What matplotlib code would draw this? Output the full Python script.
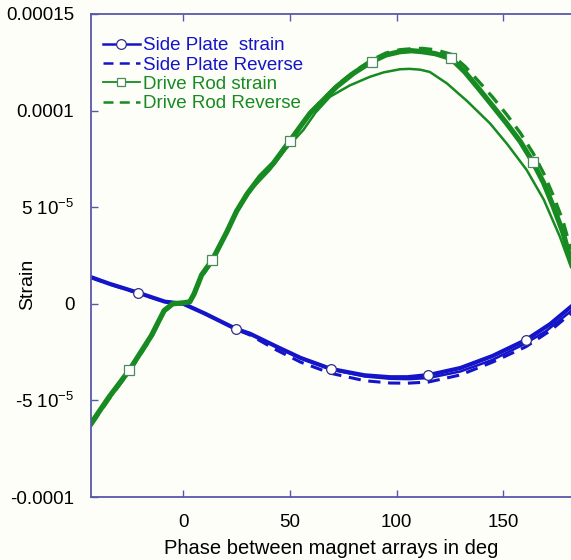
import numpy as np
import matplotlib
matplotlib.use('Agg')
import matplotlib.pyplot as plt
from matplotlib.lines import Line2D
from matplotlib.ticker import FixedLocator, FixedFormatter

plt.rcParams['font.family'] = ['Liberation Sans', 'DejaVu Sans']
plt.rcParams['mathtext.default'] = 'regular'

# phase (deg) and strain (units of 1e-5) read per curve
side_deg = [-43.3, -35, -21.1, -8.6, 0, 10, 24.7, 31.3, 43.8, 55, 69.2, 85, 97, 105, 114.9, 130, 145, 160.7, 172, 181.8]
side_strain = [1.38, 1.05, 0.57, 0.11, 0.0, -0.5, -1.30, -1.55, -2.22, -2.80, -3.37, -3.70, -3.80, -3.80, -3.69, -3.32, -2.70, -1.87, -1.05, -0.15]
side_marks = [2, 6, 10, 14, 17]
side_rev = [1.36, 1.03, 0.55, 0.10, 0.0, -0.5, -1.32, -1.62, -2.40, -3.02, -3.60, -3.98, -4.10, -4.11, -4.05, -3.68, -3.02, -2.22, -1.40, -0.50]
# second pass of the side plate gauge, only separates past ~60 deg
side_ret_deg = [55, 70, 85, 97, 106, 115, 130, 145, 160, 170, 181.8]
side_ret = [-2.82, -3.42, -3.76, -3.88, -3.90, -3.84, -3.50, -2.90, -2.08, -1.42, -0.38]

drive_deg = [-43.3, -35, -25.3, -15, -9, -5, 0, 3, 5, 8.6, 13.5, 20.3, 25, 30, 36, 42.2, 50, 59.4,
             71.9, 80, 88.3, 95, 101.6, 107, 112, 118, 125.5, 132, 139, 145, 151.6, 158, 164, 169, 173.5, 178, 181.8]
drive_strain = [-6.2, -4.85, -3.43, -1.65, -0.35, 0.0, 0.05, 0.1, 0.5, 1.5, 2.25, 3.7, 4.8, 5.7, 6.58, 7.27, 8.44, 9.86,
                11.24, 11.95, 12.53, 12.88, 13.05, 13.1, 13.05, 12.95, 12.70, 12.0, 11.07, 10.25, 9.34, 8.4, 7.32, 6.25, 5.03, 3.7, 2.2]
drive_marks = [2, 10, 16, 20, 26, 32]
drive_rev = [-6.3, -4.95, -3.5, -1.75, -0.4, -0.05, 0.05, 0.1, 0.45, 1.4, 2.2, 3.65, 4.75, 5.65, 6.55, 7.25, 8.45, 9.9,
             11.3, 12.02, 12.62, 12.98, 13.15, 13.2, 13.22, 13.15, 12.92, 12.3, 11.45, 10.7, 9.80, 8.85, 7.80, 6.75, 5.60, 4.3, 2.8]
drive_ret_deg = [30, 40.6, 48, 56.3, 62, 68.8, 78, 87.5, 94, 101.6, 106, 111, 115.6, 123.7, 133, 143.8, 152, 161, 169, 176.6, 181.8]
drive_ret = [5.7, 6.93, 8.0, 9.0, 9.9, 10.72, 11.3, 11.75, 11.98, 12.14, 12.16, 12.12, 12.0, 11.4, 10.5, 9.34, 8.25, 6.93, 5.4, 3.47, 1.9]

xticks = [0, 50, 100, 150]
yticks = [-1e-4, -5e-5, 0, 5e-5, 1e-4, 1.5e-4]
ytick_labels = ['-0.0001', '-5 10$^{-5}$', '0', '5 10$^{-5}$', '0.0001', '0.00015']

blue = '#1414c8'
green = '#178a22'
axis_col = '#5858aa'
bg = '#fefef9'

e5 = lambda v: np.array(v) * 1e-5

fig = plt.figure(figsize=(5.71, 5.60), dpi=100, facecolor=bg)
ax = fig.add_axes([91/571, 63/560, 480/571, 483/560], facecolor=bg)

ax.plot(side_ret_deg, e5(side_ret), color=blue, lw=1.8)
ax.plot(side_deg, e5(side_rev), color=blue, lw=2.2, ls=(0, (4, 2.5)))
ax.plot(side_deg, e5(side_strain), color=blue, lw=3, marker='o', markevery=side_marks,
        ms=7, mfc='white', mec='#303080', mew=0.9)

ax.plot(drive_ret_deg, e5(drive_ret), color=green, lw=1.8)
ax.plot(drive_deg, e5(drive_rev), color=green, lw=2.4, ls=(0, (4, 2.5)))
ax.plot(drive_deg, e5(drive_strain), color=green, lw=3.8, marker='s', markevery=drive_marks,
        ms=7, mfc='white', mec='#4a8a5a', mew=0.9)

ax.set_xlim(-43.3, 181.8)
ax.set_ylim(-1e-4, 1.5e-4)
ax.xaxis.set_major_locator(FixedLocator(xticks))
ax.yaxis.set_major_locator(FixedLocator(yticks))
ax.yaxis.set_major_formatter(FixedFormatter(ytick_labels))

for side in ['left', 'top', 'bottom']:
    ax.spines[side].set_color(axis_col)
    ax.spines[side].set_linewidth(1.3)
ax.spines['right'].set_visible(False)
ax.tick_params(axis='x', direction='in', length=5, width=1, color=axis_col, top=True,
               labelsize=13.5, pad=12)
ax.tick_params(axis='y', direction='in', length=5, width=1, color=axis_col,
               labelsize=13.5, pad=12)

ax.set_xlabel('Phase between magnet arrays in deg', fontsize=14.5)
ax.xaxis.set_label_coords(0.5, -0.087)
ax.set_ylabel('Strain', fontsize=14)
ax.yaxis.set_label_coords(-0.115, 0.44)

handles = [
    Line2D([], [], color=blue, lw=1.8, marker='o', ms=7, mfc='white', mec='#303080', mew=0.9),
    Line2D([], [], color=blue, lw=1.8, ls=(0, (4, 2.5))),
    Line2D([], [], color=green, lw=1.3, marker='s', ms=6, mfc='white', mec='#4a8a5a', mew=0.9),
    Line2D([], [], color=green, lw=1.8, ls=(0, (4, 2.5))),
]
labels = ['Side Plate  strain', 'Side Plate Reverse', 'Drive Rod strain', 'Drive Rod Reverse']
leg = ax.legend(handles, labels, loc='upper left', bbox_to_anchor=(0.024, 0.952), frameon=False,
                fontsize=13.5, handlelength=2.0, handletextpad=0.15, labelspacing=0.12,
                borderpad=0, borderaxespad=0)
for txt, col in zip(leg.get_texts(), [blue, blue, green, green]):
    txt.set_color(col)

fig.savefig('out.png', dpi=100, facecolor=bg)
